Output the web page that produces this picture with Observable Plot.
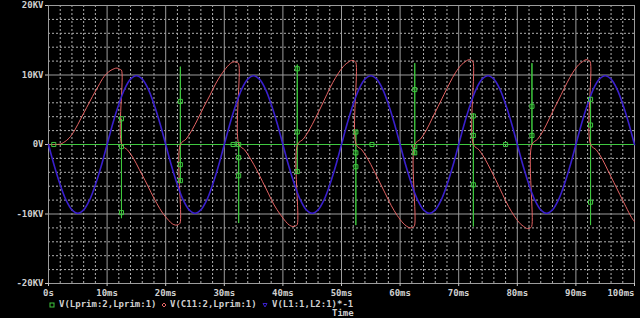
<!DOCTYPE html>
<html>
<head>
<meta charset="utf-8">
<script src="https://cdn.jsdelivr.net/npm/d3@7"></script>
<script src="https://cdn.jsdelivr.net/npm/@observablehq/plot@0.6"></script>
<style>
  html, body { margin: 0; padding: 0; background: #000; }
  #wrap { position: relative; width: 640px; height: 318px; overflow: hidden; background: #000; }
  #chart svg { display: block; }
  .lg { position: absolute; font-family: 'DejaVu Sans Mono', monospace; font-size: 9px; font-weight: bold; line-height: 9px; color: #d0d0d0; white-space: pre; }
  .sym { position: absolute; }
</style>
</head>
<body>
<div id="wrap">
  <div id="chart"></div>
</div>
<script>
// ---- Tick positions and labels ----
const xTickVals = [0, 10, 20, 30, 40, 50, 60, 70, 80, 90, 100];
const xTickLabels = ["0s", "10ms", "20ms", "30ms", "40ms", "50ms", "60ms", "70ms", "80ms", "90ms", "100ms"];
const yTickVals = [-20, -10, 0, 10, 20];
const yTickLabels = ["-20KV", "-10KV", "0V", "10KV", "20KV"];
const xMinor = [2,4,6,8,12,14,16,18,22,24,26,28,32,34,36,38,42,44,46,48,52,54,56,58,62,64,66,68,72,74,76,78,82,84,86,88,92,94,96,98];
const yMinor = [-18,-16,-14,-12,-8,-6,-4,-2,2,4,6,8,12,14,16,18];

// ---- Series: V(L1:1,L2:1)*-1 (blue), sampled every 1 ms, KV ----
const blueV = [
  0,-3.1,-5.8,-8.0,-9.4,-9.9,-9.4,-8.0,-5.8,-3.1, 0,3.1,5.8,8.0,9.4,9.9,9.4,8.0,5.8,3.1,
  0,-3.1,-5.8,-8.0,-9.4,-9.9,-9.4,-8.0,-5.8,-3.1, 0,3.1,5.8,8.0,9.4,9.9,9.4,8.0,5.8,3.1,
  0,-3.1,-5.8,-8.0,-9.4,-9.9,-9.4,-8.0,-5.8,-3.1, 0,3.1,5.8,8.0,9.4,9.9,9.4,8.0,5.8,3.1,
  0,-3.1,-5.8,-8.0,-9.4,-9.9,-9.4,-8.0,-5.8,-3.1, 0,3.1,5.8,8.0,9.4,9.9,9.4,8.0,5.8,3.1,
  0,-3.1,-5.8,-8.0,-9.4,-9.9,-9.4,-8.0,-5.8,-3.1, 0,3.1,5.8,8.0,9.4,9.9,9.4,8.0,5.8,3.1,
  0
];
const blueT = blueV.map((_, i) => i);

// ---- Series: V(C11:2,Lprim:1) (red), time in ms, KV ----
const redT = [
  0,1,2,2.6,3.5,4.5,5.5,6.5,7.5,8.5,9.5,10.5,11.2,11.7,12.2,12.45,
  12.5,13.5,14.5,15.5,16.5,17.5,18.5,19.5,20.5,21.1,21.7,22.2,22.45,
  22.5,23.5,24.5,25.5,26.5,27.5,28.5,29.5,30.5,31.1,31.7,32.2,32.45,
  32.5,33.5,34.5,35.5,36.5,37.5,38.5,39.5,40.5,41.1,41.7,42.2,42.45,
  42.5,43.5,44.5,45.5,46.5,47.5,48.5,49.5,50.5,51.1,51.7,52.2,52.45,
  52.5,53.5,54.5,55.5,56.5,57.5,58.5,59.5,60.5,61.1,61.7,62.2,62.45,
  62.5,63.5,64.5,65.5,66.5,67.5,68.5,69.5,70.5,71.1,71.7,72.2,72.45,
  72.5,73.5,74.5,75.5,76.5,77.5,78.5,79.5,80.5,81.1,81.7,82.2,82.45,
  82.5,83.5,84.5,85.5,86.5,87.5,88.5,89.5,90.5,91.1,91.7,92.2,92.45,
  92.5,93.5,94.5,95.5,96.5,97.5,98.5,99.5,100
];
const redV = [
  0,0,0.05,0.3,0.9,2.1,3.7,5.3,6.9,8.4,9.8,10.6,10.9,11.0,10.8,10.7,
  0,-0.8,-2.0,-3.6,-5.2,-6.9,-8.5,-9.9,-10.9,-11.4,-11.6,-11.5,-11.3,
  0,0.8,2.1,3.7,5.4,7.0,8.7,10.1,11.2,11.7,11.9,11.8,11.6,
  0,-0.8,-2.1,-3.6,-5.3,-7.0,-8.7,-10.0,-11.1,-11.6,-11.8,-11.7,-11.5,
  0,0.8,2.1,3.7,5.4,7.2,8.9,10.3,11.4,11.8,12.1,12.0,11.8,
  0,-0.8,-2.1,-3.7,-5.4,-7.1,-8.8,-10.2,-11.3,-11.75,-12.0,-11.9,-11.7,
  0,0.8,2.1,3.8,5.5,7.2,8.9,10.4,11.5,11.9,12.2,12.1,11.9,
  0,-0.8,-2.1,-3.7,-5.4,-7.2,-8.9,-10.3,-11.4,-11.8,-12.1,-12.0,-11.8,
  0,0.8,2.1,3.8,5.5,7.2,8.9,10.4,11.5,11.9,12.2,12.1,11.9,
  0,-0.8,-2.1,-3.8,-5.5,-7.2,-8.9,-10.5,-11.1
];

// ---- Series: V(Lprim:2,Lprim:1) (green), time in ms, KV ----
const greenT = [0, 12.45,12.45,12.45,12.45, 22.5,22.5,22.5,22.5, 32.45,32.45,32.45,32.45, 42.45,42.45,42.45,42.45,
  52.45,52.45,52.45,52.45, 62.5,62.5,62.5,62.5, 72.5,72.5,72.5,72.5, 82.5,82.5,82.5,82.5, 92.5,92.5,92.5,92.5, 100];
const greenV = [0, 0,3.7,-10.6,0, 0,11.2,-5.5,0, 0,0.2,-11.3,0, 0,11.5,-4.2,0,
  0,2.0,-11.6,0, 0,11.7,-1.5,0, 0,4.5,-11.8,0, 0,11.7,0,0, 0,7.0,-11.6,0, 0];
// green trace markers
const gmT = [0.9, 12.45,12.45,12.45, 22.5,22.5,22.5, 31.5,32.45,32.45,32.45, 42.45,42.45,42.45, 52.45,52.45,52.45, 55.2, 62.5,62.5,62.5, 72.5,72.5,72.5, 78.0, 82.5,82.5, 92.5,92.5,92.5];
const gmV = [0, 3.7,-0.3,-9.8, 6.2,-2.9,-5.2, 0,0,-1.9,-4.5, 10.9,1.8,-3.9, 1.8,-1.2,-3.2, 0, 7.9,-0.3,-1.2, 4.1,1.3,-5.8, 0, 5.5,1.3, 6.5,2.8,-8.3];

const cGreen = "#3fc83f", cRed = "#e56464", cBlue = "#3a20cc";
const cMajor = "#9c9c9c", cMinor = "#b0b0b0";

const blue = blueT.map((t, i) => ({t, v: blueV[i]}));
const red = redT.map((t, i) => ({t, v: redV[i]}));
const green = greenT.map((t, i) => ({t, v: greenV[i]}));
const gm = gmT.map((t, i) => ({t, v: gmV[i]}));

const xfmt = d => xTickLabels[xTickVals.indexOf(d)];
const yfmt = d => yTickLabels[yTickVals.indexOf(d)];

const chart = Plot.plot({
  width: 640,
  height: 300,
  marginLeft: 48,
  marginRight: 6,
  marginTop: 5,
  marginBottom: 17,
  style: {background: "#000", color: "#d0d0d0", fontFamily: "'DejaVu Sans Mono', monospace", fontSize: "9px", fontWeight: "bold"},
  x: {domain: [0, 100], label: null},
  y: {domain: [-20, 20], label: null},
  marks: [
    Plot.ruleX(xMinor, {stroke: cMinor, strokeDasharray: "2,2", strokeWidth: 1}),
    Plot.ruleY(yMinor, {stroke: cMinor, strokeDasharray: "2,2", strokeWidth: 1}),
    Plot.ruleX(xTickVals, {stroke: cMajor, strokeWidth: 1}),
    Plot.ruleY(yTickVals, {stroke: cMajor, strokeWidth: 1}),
    Plot.axisY({ticks: yTickVals, tickFormat: yfmt, tickSize: 3, tickPadding: 2, label: null, stroke: "#c8c8c8", fill: "#d0d0d0"}),
    Plot.axisX({ticks: xTickVals.slice(0, 10), tickFormat: xfmt, tickSize: 3, tickPadding: 3, label: null, stroke: "#c8c8c8", fill: "#d0d0d0"}),
    Plot.axisX({ticks: [100], tickFormat: xfmt, tickSize: 3, tickPadding: 3, label: null, textAnchor: "end", stroke: "#c8c8c8", fill: "#d0d0d0"}),
    Plot.line(green, {x: "t", y: "v", stroke: cGreen, strokeWidth: 1}),
    Plot.line(red, {x: "t", y: "v", stroke: cRed, strokeWidth: 1, curve: "catmull-rom"}),
    Plot.line(blue, {x: "t", y: "v", stroke: cBlue, strokeWidth: 1.6, curve: "catmull-rom"}),
    Plot.dot(gm, {x: "t", y: "v", symbol: "square", r: 2.3, stroke: cGreen, fill: "none", strokeWidth: 1})
  ]
});
document.getElementById("chart").appendChild(chart);

// ---- Legend (below the SVG) ----
const wrap = document.getElementById("wrap");
const legendItems = [
  {label: "V(Lprim:2,Lprim:1)", color: cGreen, shape: "square", sx: 51.5, tx: 59},
  {label: "V(C11:2,Lprim:1)", color: cRed, shape: "diamond", sx: 164, tx: 170},
  {label: "V(L1:1,L2:1)*-1", color: cBlue, shape: "triangle", sx: 265, tx: 272}
];
for (const it of legendItems) {
  const s = document.createElementNS("http://www.w3.org/2000/svg", "svg");
  s.setAttribute("width", 6); s.setAttribute("height", 6);
  s.setAttribute("class", "sym");
  s.style.left = (it.sx - 3) + "px"; s.style.top = "302px";
  let shape;
  if (it.shape === "square") { shape = document.createElementNS(s.namespaceURI, "rect"); shape.setAttribute("x", 1); shape.setAttribute("y", 1); shape.setAttribute("width", 4); shape.setAttribute("height", 4); shape.setAttribute("fill", "none"); shape.setAttribute("stroke", it.color); }
  else if (it.shape === "diamond") { shape = document.createElementNS(s.namespaceURI, "path"); shape.setAttribute("d", "M3,1L5,3L3,5L1,3Z"); shape.setAttribute("fill", "none"); shape.setAttribute("stroke", it.color); }
  else { shape = document.createElementNS(s.namespaceURI, "path"); shape.setAttribute("d", "M1,1.5L5,1.5L3,5Z"); shape.setAttribute("fill", "none"); shape.setAttribute("stroke", it.color); }
  s.appendChild(shape);
  wrap.appendChild(s);
  const d = document.createElement("div");
  d.className = "lg"; d.textContent = it.label;
  d.style.left = it.tx + "px"; d.style.top = "300px";
  wrap.appendChild(d);
}
const tl = document.createElement("div");
tl.className = "lg"; tl.textContent = "Time";
tl.style.left = "332px"; tl.style.top = "309px";
wrap.appendChild(tl);
</script>
</body>
</html>
